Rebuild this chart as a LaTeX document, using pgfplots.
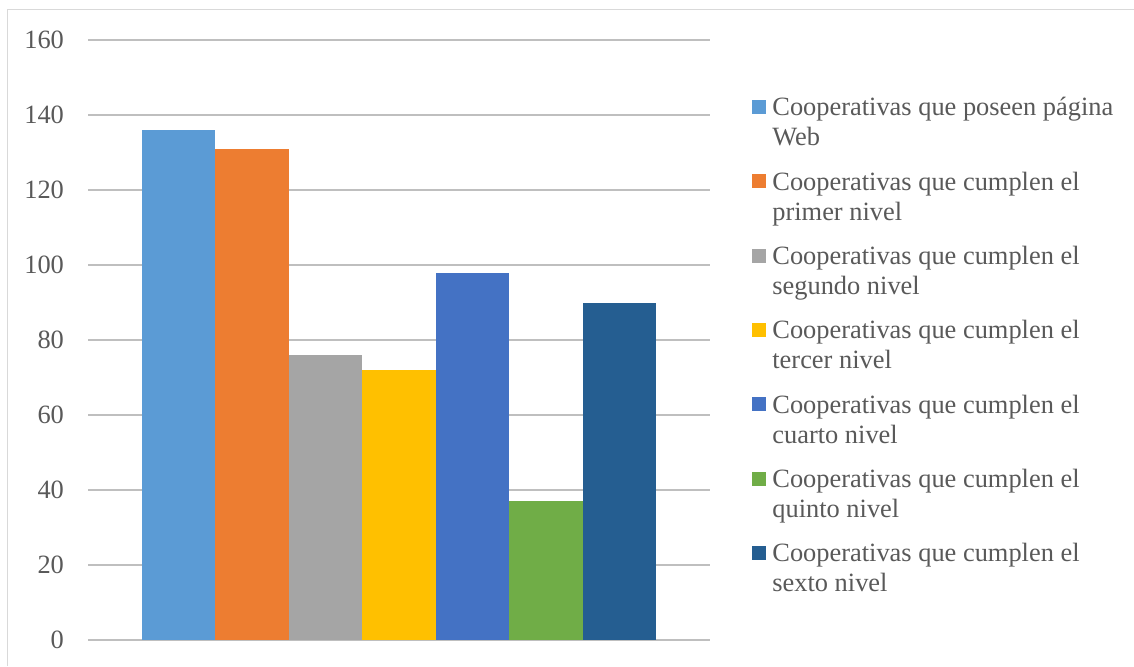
\documentclass[border=0pt]{standalone}
\usepackage{fontspec}
\setmainfont{Liberation Serif}
\usepackage{pgfplots}
\pgfplotsset{compat=1.18}

\definecolor{cA}{HTML}{5B9BD5}
\definecolor{cB}{HTML}{ED7D31}
\definecolor{cC}{HTML}{A5A5A5}
\definecolor{cD}{HTML}{FFC000}
\definecolor{cE}{HTML}{4472C4}
\definecolor{cF}{HTML}{70AD47}
\definecolor{cG}{HTML}{255E91}
\definecolor{txt}{HTML}{595959}
\definecolor{grid}{HTML}{D9D9D9}

\begin{document}
\begin{tikzpicture}
\useasboundingbox (0pt,0pt) rectangle (567pt,333pt);
% outer frame
\draw[grid, line width=0.8pt] (3.75pt,0pt) -- (3.75pt,328.25pt) -- (567pt,328.25pt);
\begin{axis}[
  at={(44pt,13pt)}, anchor=south west,
  scale only axis, width=311pt, height=300pt,
  font=\fontsize{13.2}{15}\selectfont,
  /pgf/number format/assume math mode=true,
  ymin=0, ymax=160, ytick={0,20,...,160},
  xmin=-1.236, xmax=7.236, xtick=\empty,
  axis line style={draw=none},
  ymajorgrids, grid style={grid, line width=0.75pt},
  major tick length=0pt,
  yticklabel style={text=txt, xshift=-8.5pt},
  ybar,
  bar width=36.7pt, bar shift=0pt,
  every axis plot/.append style={draw=none, bar shift=0pt},
  legend image code/.code={\fill[#1] (0pt,4.5pt) rectangle (7pt,11.5pt);},
  legend cell align=left,
  legend style={at={(1.0675,0.49)}, anchor=west, draw=none, fill=none,
    inner sep=0pt, row sep=11.5pt, column sep=3pt,
    nodes={inner sep=0pt, align=left, text=txt, font=\fontsize{13.2}{15}\selectfont}},
]
\addplot[fill=cA] coordinates {(0,136)};
\addlegendentry{Cooperativas que poseen página\\Web}
\addplot[fill=cB] coordinates {(1,131)};
\addlegendentry{Cooperativas que cumplen el\\primer nivel}
\addplot[fill=cC] coordinates {(2,76)};
\addlegendentry{Cooperativas que cumplen el\\segundo nivel}
\addplot[fill=cD] coordinates {(3,72)};
\addlegendentry{Cooperativas que cumplen el\\tercer nivel}
\addplot[fill=cE] coordinates {(4,98)};
\addlegendentry{Cooperativas que cumplen el\\cuarto nivel}
\addplot[fill=cF] coordinates {(5,37)};
\addlegendentry{Cooperativas que cumplen el\\quinto nivel}
\addplot[fill=cG] coordinates {(6,90)};
\addlegendentry{Cooperativas que cumplen el\\sexto nivel}
\end{axis}
\end{tikzpicture}
\end{document}
